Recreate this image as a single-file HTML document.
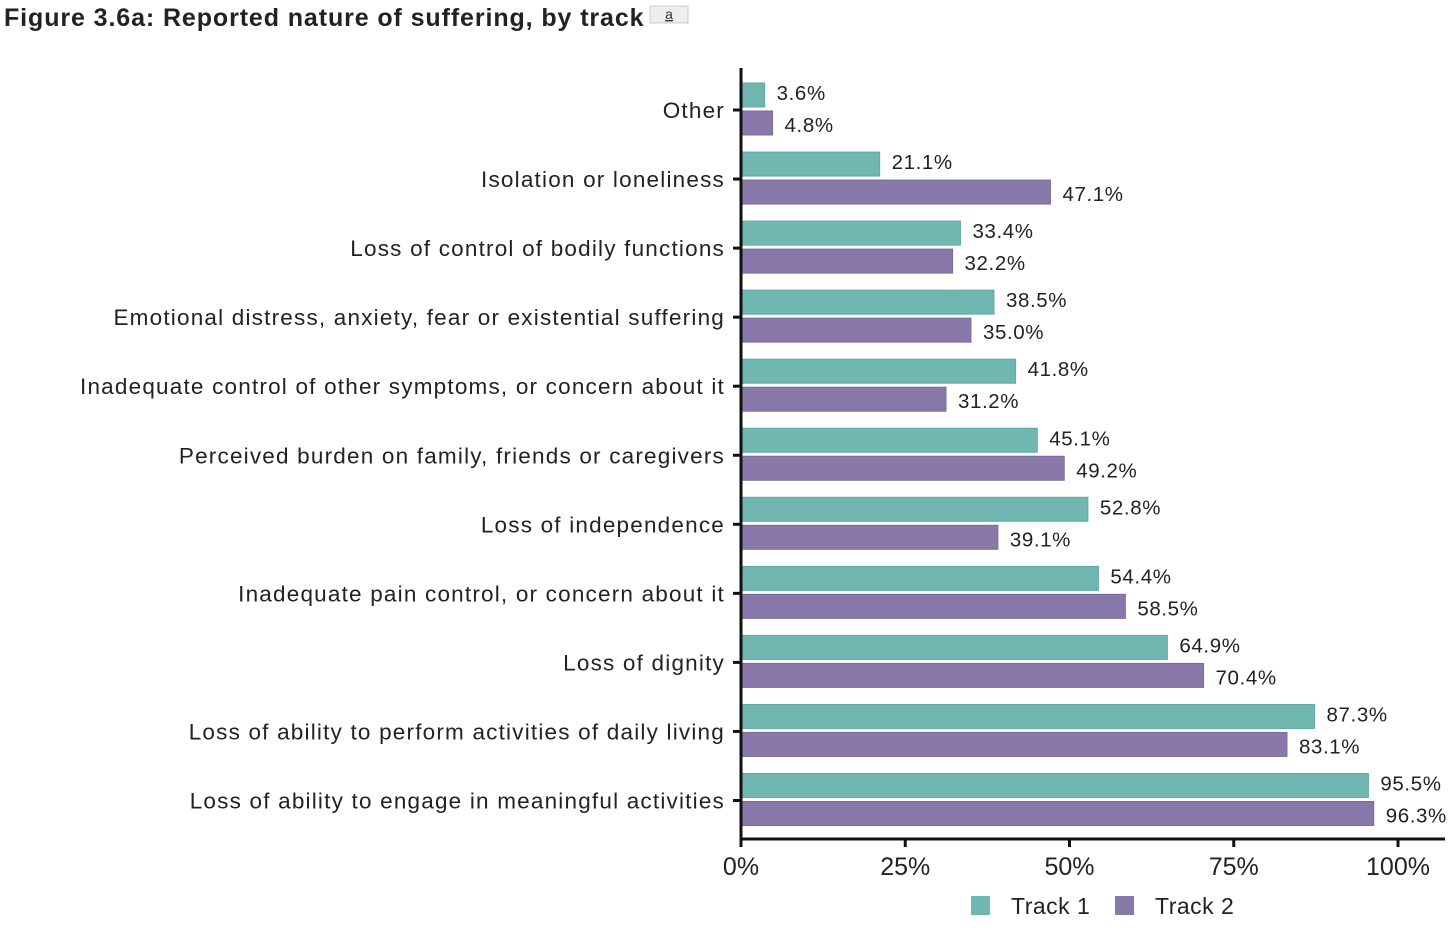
<!DOCTYPE html>
<html><head><meta charset="utf-8"><style>
html,body{margin:0;padding:0;background:#fff;width:1456px;height:932px;overflow:hidden}
svg{display:block}
</style></head><body>
<svg id="chart" width="1456" height="932" font-family="Liberation Sans, sans-serif">
<text x="4" y="26" font-size="25" font-weight="bold" fill="#222" letter-spacing="0.9">Figure 3.6a: Reported nature of suffering, by track</text>
<g><rect x="650" y="6" width="38" height="17" fill="#eee" stroke="#ccc"/><text x="669" y="19" font-size="14" text-anchor="middle" fill="#333" text-decoration="underline">a</text></g>
<g id="plot"></g>
</svg>
<script>
const categories=["Other","Isolation or loneliness","Loss of control of bodily functions","Emotional distress, anxiety, fear or existential suffering","Inadequate control of other symptoms, or concern about it","Perceived burden on family, friends or caregivers","Loss of independence","Inadequate pain control, or concern about it","Loss of dignity","Loss of ability to perform activities of daily living","Loss of ability to engage in meaningful activities"];
const track1=[3.6,21.1,33.4,38.5,41.8,45.1,52.8,54.4,64.9,87.3,95.5];
const track2=[4.8,47.1,32.2,35.0,31.2,49.2,39.1,58.5,70.4,83.1,96.3];
const ticks=[0,25,50,75,100];
const seriesNames=["Track 1","Track 2"];
const colors=["#70b7b1","#8979aa"];
const NS="http://www.w3.org/2000/svg";
const g=document.getElementById('plot');
const x=v=>741+v*6.57;
const yc=i=>110+i*69.05;
function el(t,a,p){const e=document.createElementNS(NS,t);for(const k in a)e.setAttribute(k,a[k]);(p||g).appendChild(e);return e;}
categories.forEach((c,i)=>{
  const y=yc(i);
  const lab=el('text',{x:725,y:y+8,'font-size':22.5,'text-anchor':'end',fill:'#222','letter-spacing':1.2});
  lab.textContent=c;
  
  
  const tk=el('line',{x1:733,x2:741,y1:y,y2:y,stroke:'#111','stroke-width':3});
  
  
  [track1[i],track2[i]].forEach((v,s)=>{
    const top=s===0?y-27:y+1;
    const r=el('rect',{x:741,y:top,width:x(v)-741,height:24,fill:colors[s],stroke:s?'#7a6a9c':'#62a8a2','stroke-width':1});
    
    
    const t=el('text',{x:x(v)+12,y:top+(s?21:17),'font-size':20.5,fill:'#222','letter-spacing':0.6});
    t.textContent=v.toFixed(1)+'%';
    
    
  });
});
const ya=el('line',{x1:741,x2:741,y1:68,y2:840,stroke:'#111','stroke-width':3});


const xa=el('line',{x1:740,x2:1445,y1:839,y2:839,stroke:'#111','stroke-width':3});


ticks.forEach(v=>{
  const l=el('line',{x1:x(v),x2:x(v),y1:839,y2:847,stroke:'#111','stroke-width':3});
  
  
  const t=el('text',{x:x(v),y:875,'font-size':25,'text-anchor':'middle',fill:'#222'});
  t.textContent=v+'%';
  
  
});
seriesNames.forEach((n,s)=>{
  const lx=971+s*144;
  const lg=el('g',{});
  
  
  el('rect',{x:lx,y:896,width:19,height:19,fill:colors[s]},lg);
  const t=el('text',{x:lx+40,y:914,'font-size':23,fill:'#222','letter-spacing':0.5},lg);
  t.textContent=n;
});
</script>
</body></html>
